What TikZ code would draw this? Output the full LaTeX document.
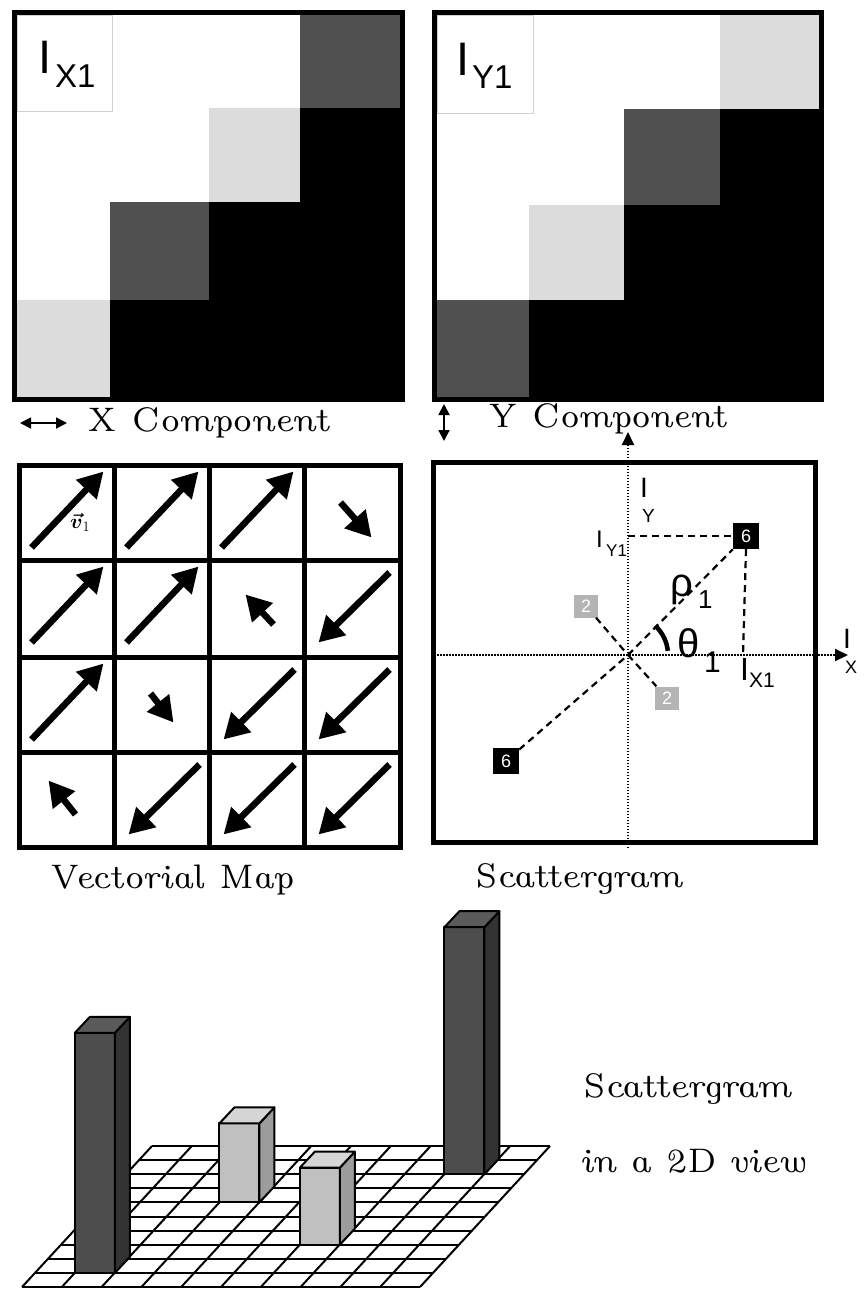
\documentclass[tikz,border=0pt]{standalone}
\usepackage{fontspec}
\usepackage{amsmath}
\usetikzlibrary{arrows.meta}
\newfontfamily\sansf{Liberation Sans}
\definecolor{gdark}{HTML}{505050}
\definecolor{glight}{HTML}{DCDCDC}
\definecolor{bdark}{HTML}{4D4D4D}
\definecolor{bdside}{HTML}{333333}
\definecolor{bdtop}{HTML}{5A5A5A}
\definecolor{blight}{HTML}{C0C0C0}
\definecolor{blside}{HTML}{9C9C9C}
\definecolor{bltop}{HTML}{D6D6D6}
\definecolor{boxgray}{HTML}{B4B4B4}
\newcommand\drawbar[6]{%
  \filldraw[barline,fill=#4] (#1,#2) rectangle ++(40,-#3);
  \filldraw[barline,fill=#5] (#1+40,#2) -- ++(15,-16) -- ++(0,-#3) -- ++(-15,16) -- cycle;
  \filldraw[barline,fill=#6] (#1,#2-#3) -- ++(40,0) -- ++(15,-16) -- ++(-40,0) -- cycle;
}
\newcommand\sfs[1]{\fontsize{#1}{#1}\sansf\selectfont}
\begin{document}
\begin{tikzpicture}[x=1pt,y=-1pt,
  frame/.style={draw=black,line width=5pt},
  vecarrow/.style={line width=6.5pt,-{Triangle[length=25pt,width=27pt]}},
  lbl/.style={font=\fontsize{34}{34}\selectfont\fontshape{ui}\selectfont,anchor=base west,inner sep=0pt},
  sl/.style={anchor=base west,inner sep=0pt},
  dbl/.style={line width=1.8pt,{Triangle[length=11pt,width=11pt]}-{Triangle[length=11pt,width=11pt]}},
  axisline/.style={line width=2pt,dash pattern=on 1.5pt off 1.5pt,-{Triangle[length=13pt,width=12pt]}},
  dsh/.style={line width=2.2pt,dash pattern=on 7pt off 5pt},
  bbox/.style={fill=black,text=white,minimum size=26pt,inner sep=0pt,font=\sfs{18}},
  gbox/.style={fill=boxgray,text=white,minimum width=24pt,minimum height=23pt,inner sep=0pt,font=\sfs{18}},
  gridline/.style={line width=2pt},
  barline/.style={draw=black,line width=2pt,line join=round}]
\useasboundingbox (0,0) rectangle (865,1293);
\fill[white] (0,0) rectangle (865,1293);

% ---------- top-left panel (X component) ----------
\fill[gdark] (300,15) rectangle (400,108);
\fill[glight] (209,108) rectangle (300,202);
\fill[gdark] (110,202) rectangle (209,300);
\fill[glight] (17,300) rectangle (110,397);
\fill[black] (300,108) -- (400,108) -- (400,397) -- (110,397) -- (110,300) -- (209,300) -- (209,202) -- (300,202) -- cycle;
\draw[black!18,line width=1pt] (17,15) rectangle (112,111);
\draw[frame] (14.5,12.5) rectangle (402.5,399.5);
\node[sl,font=\sfs{47}] (ix) at (38,73) {I};
\node[sl,font=\sfs{33}] (ixs) at (55,87) {X1};

% ---------- top-right panel (Y component) ----------
\fill[glight] (720,15) rectangle (819,109);
\fill[gdark] (624,109) rectangle (720,205);
\fill[glight] (529,205) rectangle (624,300);
\fill[gdark] (437,300) rectangle (529,397);
\fill[black] (720,109) -- (819,109) -- (819,397) -- (529,397) -- (529,300) -- (624,300) -- (624,205) -- (720,205) -- cycle;
\draw[black!18,line width=1pt] (437,15) rectangle (533,113);
\draw[frame] (434.5,12.5) rectangle (821.5,399.5);
\node[sl,font=\sfs{47}] (iy) at (456,75) {I};
\node[sl,font=\sfs{33}] (iys) at (472,88) {Y1};

% ---------- component labels ----------
\coordinate (xa1) at (20,423); \coordinate (xa2) at (67,423);
\draw[dbl] (xa1) -- (xa2);
\node[lbl] (xcomp) at (87,431) {\resizebox{243pt}{\height}{X Component}};
\coordinate (ya1) at (444,404); \coordinate (ya2) at (444,441);
\draw[dbl] (ya1) -- (ya2);
\node[lbl] (ycomp) at (488,427) {\resizebox{239pt}{\height}{Y Component}};

% ---------- vectorial map ----------
\foreach \x in {114.5,209.5,304.5} \draw[line width=5pt] (\x,465.5) -- (\x,847.5);
\foreach \y in {560.5,657.5,752.5} \draw[line width=5pt] (19.5,\y) -- (400.5,\y);
\draw[frame] (19.5,465.5) rectangle (400.5,847.5);
% NE long
\foreach \x/\y in {19.5/465.5,114.5/465.5,209.5/465.5,19.5/560.5,114.5/560.5,19.5/657.5}
  \draw[vecarrow] (\x+12,\y+82) -- (\x+84,\y+6);
% SW long
\foreach \x/\y in {304.5/560.5,209.5/657.5,304.5/657.5,114.5/752.5,209.5/752.5,304.5/752.5}
  \draw[vecarrow] (\x+85,\y+12) -- (\x+14,\y+82);
% short arrows
\draw[vecarrow] (304.5+36,465.5+37) -- (304.5+67,465.5+72);
\draw[vecarrow] (114.5+36,657.5+36) -- (114.5+59,657.5+65);
\draw[vecarrow] (209.5+64,560.5+64) -- (209.5+36,560.5+34);
\draw[vecarrow] (19.5+56,752.5+62) -- (19.5+29,752.5+28);
\node[sl,font=\fontsize{22}{22}\selectfont] (v1) at (70,528) {$\boldsymbol{\vec{v}}_1$};
\node[lbl] (vmap) at (50,888) {\resizebox{245pt}{\height}{Vectorial Map}};

% ---------- scattergram ----------
\draw[frame] (433.5,462.5) rectangle (815.5,842.5);
\coordinate (O) at (628,655);
\coordinate (yb) at (628,848); \coordinate (yt) at (628,432);
\coordinate (xl) at (437,655); \coordinate (xr) at (848,655);
\draw[axisline] (yb) -- (yt);
\draw[axisline] (xl) -- (xr);
\node[bbox] (s6a) at (746,536) {6};
\node[gbox] (s2a) at (586,606) {2};
\node[gbox] (s2b) at (667,698) {2};
\node[bbox] (s6b) at (506,761) {6};
\coordinate (iyc) at (628,536);
\coordinate (ixc) at (743,655);
\draw[dsh] (iyc) -- (s6a.west);
\draw[dsh] (s6a.south) -- (ixc);
\draw[dsh] (O) -- (s6a);
\draw[dsh] (s2a) -- (O);
\draw[dsh] (O) -- (s2b);
\draw[dsh] (s6b) -- (O);
\draw[line width=4.5pt] ([shift={(-47:40)}]O) arc (-47:-6:40);
\node[sl,font=\sfs{28}] (ayI) at (640,497) {I};
\node[sl,font=\sfs{19}] (ayY) at (642,522) {Y};
\node[sl,font=\sfs{24}] (iy1I) at (596,547) {I};
\node[sl,font=\sfs{17}] (iy1s) at (606,556) {Y1};
\node[sl,font=\sfs{40}] (rho) at (670,596) {ρ};
\node[sl,font=\sfs{26}] (rhos) at (698,608) {1};
\node[sl,font=\sfs{40}] (theta) at (677,657) {θ};
\node[sl,font=\sfs{30}] (thetas) at (704,672) {1};
\node[sl,font=\sfs{32}] (ix1I) at (740,680) {I};
\node[sl,font=\sfs{21}] (ix1s) at (749,687) {X1};
\node[sl,font=\sfs{28}] (axI) at (843,648) {I};
\node[sl,font=\sfs{18}] (axX) at (845,673) {X};
\node[lbl] (sgram) at (475,887) {\resizebox{208pt}{\height}{Scattergram}};

% ---------- 3D view ----------
\foreach \r in {0,...,10}
  \draw[gridline] (22+13*\r,1287-14.1*\r) -- (420+13*\r,1287-14.1*\r);
\foreach \i in {0,...,10}
  \draw[gridline] (22+39.8*\i,1287) -- (152+39.8*\i,1146);
\drawbar{444.4}{1174.2}{247}{bdark}{bdside}{bdtop}
\drawbar{219.4}{1202.4}{79}{blight}{blside}{bltop}
\drawbar{299.8}{1244.7}{77}{blight}{blside}{bltop}
\drawbar{74.8}{1272.9}{240}{bdark}{bdside}{bdtop}
\node[lbl] (sg2) at (583,1097) {\resizebox{209pt}{\height}{Scattergram}};
\node[lbl] (v2d) at (582,1172) {\resizebox{225pt}{\height}{in a 2D view}};
\end{tikzpicture}
\end{document}
